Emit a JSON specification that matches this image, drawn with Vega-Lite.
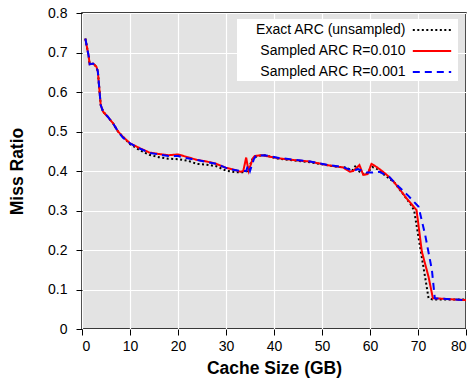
{
  "$schema": "https://vega.github.io/schema/vega-lite/v6.json",
  "width": 384,
  "height": 316,
  "autosize": "none",
  "padding": {"left": 82, "top": 13, "right": 8, "bottom": 52},
  "background": "white",
  "config": {
    "view": {"fill": "#e3e3e3", "stroke": "black", "strokeWidth": 1.5},
    "font": "Liberation Sans"
  },
  "data": {"values": [
    {"series":"Exact ARC (unsampled)","size":0.7,"ratio":0.735},
    {"series":"Exact ARC (unsampled)","size":1.4,"ratio":0.69},
    {"series":"Exact ARC (unsampled)","size":1.6,"ratio":0.67},
    {"series":"Exact ARC (unsampled)","size":2.3,"ratio":0.672},
    {"series":"Exact ARC (unsampled)","size":3.0,"ratio":0.664},
    {"series":"Exact ARC (unsampled)","size":3.3,"ratio":0.652},
    {"series":"Exact ARC (unsampled)","size":3.9,"ratio":0.567},
    {"series":"Exact ARC (unsampled)","size":4.4,"ratio":0.55},
    {"series":"Exact ARC (unsampled)","size":5.4,"ratio":0.537},
    {"series":"Exact ARC (unsampled)","size":6.5,"ratio":0.52},
    {"series":"Exact ARC (unsampled)","size":7.5,"ratio":0.5},
    {"series":"Exact ARC (unsampled)","size":8.5,"ratio":0.487},
    {"series":"Exact ARC (unsampled)","size":10,"ratio":0.468},
    {"series":"Exact ARC (unsampled)","size":12,"ratio":0.453},
    {"series":"Exact ARC (unsampled)","size":14,"ratio":0.441},
    {"series":"Exact ARC (unsampled)","size":16,"ratio":0.435},
    {"series":"Exact ARC (unsampled)","size":18,"ratio":0.431},
    {"series":"Exact ARC (unsampled)","size":20,"ratio":0.43},
    {"series":"Exact ARC (unsampled)","size":22,"ratio":0.426},
    {"series":"Exact ARC (unsampled)","size":24,"ratio":0.418},
    {"series":"Exact ARC (unsampled)","size":26,"ratio":0.416},
    {"series":"Exact ARC (unsampled)","size":28,"ratio":0.412},
    {"series":"Exact ARC (unsampled)","size":30,"ratio":0.401},
    {"series":"Exact ARC (unsampled)","size":32,"ratio":0.397},
    {"series":"Exact ARC (unsampled)","size":33.5,"ratio":0.397},
    {"series":"Exact ARC (unsampled)","size":34.5,"ratio":0.4},
    {"series":"Exact ARC (unsampled)","size":35.5,"ratio":0.43},
    {"series":"Exact ARC (unsampled)","size":36.5,"ratio":0.438},
    {"series":"Exact ARC (unsampled)","size":38,"ratio":0.44},
    {"series":"Exact ARC (unsampled)","size":41,"ratio":0.431},
    {"series":"Exact ARC (unsampled)","size":44,"ratio":0.427},
    {"series":"Exact ARC (unsampled)","size":47,"ratio":0.423},
    {"series":"Exact ARC (unsampled)","size":50,"ratio":0.417},
    {"series":"Exact ARC (unsampled)","size":53,"ratio":0.411},
    {"series":"Exact ARC (unsampled)","size":55,"ratio":0.409},
    {"series":"Exact ARC (unsampled)","size":56.3,"ratio":0.401},
    {"series":"Exact ARC (unsampled)","size":57.1,"ratio":0.415},
    {"series":"Exact ARC (unsampled)","size":57.6,"ratio":0.4},
    {"series":"Exact ARC (unsampled)","size":59,"ratio":0.39},
    {"series":"Exact ARC (unsampled)","size":60.5,"ratio":0.41},
    {"series":"Exact ARC (unsampled)","size":61.5,"ratio":0.405},
    {"series":"Exact ARC (unsampled)","size":63,"ratio":0.39},
    {"series":"Exact ARC (unsampled)","size":65,"ratio":0.372},
    {"series":"Exact ARC (unsampled)","size":67,"ratio":0.34},
    {"series":"Exact ARC (unsampled)","size":68.5,"ratio":0.315},
    {"series":"Exact ARC (unsampled)","size":69.2,"ratio":0.3},
    {"series":"Exact ARC (unsampled)","size":70,"ratio":0.24},
    {"series":"Exact ARC (unsampled)","size":71.5,"ratio":0.13},
    {"series":"Exact ARC (unsampled)","size":72.2,"ratio":0.078},
    {"series":"Exact ARC (unsampled)","size":73,"ratio":0.075},
    {"series":"Exact ARC (unsampled)","size":80,"ratio":0.075},

    {"series":"Sampled ARC R=0.010","size":0.7,"ratio":0.735},
    {"series":"Sampled ARC R=0.010","size":1.4,"ratio":0.69},
    {"series":"Sampled ARC R=0.010","size":1.6,"ratio":0.67},
    {"series":"Sampled ARC R=0.010","size":2.3,"ratio":0.672},
    {"series":"Sampled ARC R=0.010","size":3.0,"ratio":0.664},
    {"series":"Sampled ARC R=0.010","size":3.3,"ratio":0.652},
    {"series":"Sampled ARC R=0.010","size":3.9,"ratio":0.567},
    {"series":"Sampled ARC R=0.010","size":4.4,"ratio":0.55},
    {"series":"Sampled ARC R=0.010","size":5.4,"ratio":0.537},
    {"series":"Sampled ARC R=0.010","size":6.5,"ratio":0.52},
    {"series":"Sampled ARC R=0.010","size":7.5,"ratio":0.5},
    {"series":"Sampled ARC R=0.010","size":8.5,"ratio":0.487},
    {"series":"Sampled ARC R=0.010","size":10,"ratio":0.47},
    {"series":"Sampled ARC R=0.010","size":12,"ratio":0.458},
    {"series":"Sampled ARC R=0.010","size":14,"ratio":0.447},
    {"series":"Sampled ARC R=0.010","size":16,"ratio":0.443},
    {"series":"Sampled ARC R=0.010","size":18,"ratio":0.44},
    {"series":"Sampled ARC R=0.010","size":20,"ratio":0.442},
    {"series":"Sampled ARC R=0.010","size":22,"ratio":0.435},
    {"series":"Sampled ARC R=0.010","size":24,"ratio":0.428},
    {"series":"Sampled ARC R=0.010","size":26,"ratio":0.424},
    {"series":"Sampled ARC R=0.010","size":28,"ratio":0.418},
    {"series":"Sampled ARC R=0.010","size":30,"ratio":0.408},
    {"series":"Sampled ARC R=0.010","size":31.5,"ratio":0.404},
    {"series":"Sampled ARC R=0.010","size":33,"ratio":0.398},
    {"series":"Sampled ARC R=0.010","size":33.6,"ratio":0.4},
    {"series":"Sampled ARC R=0.010","size":34.2,"ratio":0.434},
    {"series":"Sampled ARC R=0.010","size":34.7,"ratio":0.4},
    {"series":"Sampled ARC R=0.010","size":35.6,"ratio":0.432},
    {"series":"Sampled ARC R=0.010","size":36,"ratio":0.438},
    {"series":"Sampled ARC R=0.010","size":37.5,"ratio":0.44},
    {"series":"Sampled ARC R=0.010","size":41,"ratio":0.432},
    {"series":"Sampled ARC R=0.010","size":44.7,"ratio":0.427},
    {"series":"Sampled ARC R=0.010","size":47.5,"ratio":0.424},
    {"series":"Sampled ARC R=0.010","size":51,"ratio":0.415},
    {"series":"Sampled ARC R=0.010","size":54.4,"ratio":0.409},
    {"series":"Sampled ARC R=0.010","size":55.8,"ratio":0.398},
    {"series":"Sampled ARC R=0.010","size":56.5,"ratio":0.4},
    {"series":"Sampled ARC R=0.010","size":57.8,"ratio":0.415},
    {"series":"Sampled ARC R=0.010","size":58.6,"ratio":0.39},
    {"series":"Sampled ARC R=0.010","size":59.5,"ratio":0.392},
    {"series":"Sampled ARC R=0.010","size":60.3,"ratio":0.418},
    {"series":"Sampled ARC R=0.010","size":61.4,"ratio":0.41},
    {"series":"Sampled ARC R=0.010","size":62.5,"ratio":0.4},
    {"series":"Sampled ARC R=0.010","size":64,"ratio":0.385},
    {"series":"Sampled ARC R=0.010","size":65,"ratio":0.372},
    {"series":"Sampled ARC R=0.010","size":66.3,"ratio":0.352},
    {"series":"Sampled ARC R=0.010","size":67.6,"ratio":0.331},
    {"series":"Sampled ARC R=0.010","size":69.7,"ratio":0.301},
    {"series":"Sampled ARC R=0.010","size":70.8,"ratio":0.196},
    {"series":"Sampled ARC R=0.010","size":72.2,"ratio":0.132},
    {"series":"Sampled ARC R=0.010","size":73.1,"ratio":0.078},
    {"series":"Sampled ARC R=0.010","size":80,"ratio":0.073},

    {"series":"Sampled ARC R=0.001","size":0.7,"ratio":0.735},
    {"series":"Sampled ARC R=0.001","size":1.4,"ratio":0.69},
    {"series":"Sampled ARC R=0.001","size":1.6,"ratio":0.67},
    {"series":"Sampled ARC R=0.001","size":2.3,"ratio":0.672},
    {"series":"Sampled ARC R=0.001","size":3.0,"ratio":0.664},
    {"series":"Sampled ARC R=0.001","size":3.3,"ratio":0.652},
    {"series":"Sampled ARC R=0.001","size":3.9,"ratio":0.567},
    {"series":"Sampled ARC R=0.001","size":4.4,"ratio":0.55},
    {"series":"Sampled ARC R=0.001","size":5.4,"ratio":0.537},
    {"series":"Sampled ARC R=0.001","size":6.5,"ratio":0.52},
    {"series":"Sampled ARC R=0.001","size":7.5,"ratio":0.5},
    {"series":"Sampled ARC R=0.001","size":8.5,"ratio":0.485},
    {"series":"Sampled ARC R=0.001","size":10,"ratio":0.47},
    {"series":"Sampled ARC R=0.001","size":12,"ratio":0.457},
    {"series":"Sampled ARC R=0.001","size":14,"ratio":0.446},
    {"series":"Sampled ARC R=0.001","size":16,"ratio":0.442},
    {"series":"Sampled ARC R=0.001","size":18,"ratio":0.438},
    {"series":"Sampled ARC R=0.001","size":20,"ratio":0.438},
    {"series":"Sampled ARC R=0.001","size":22,"ratio":0.432},
    {"series":"Sampled ARC R=0.001","size":24,"ratio":0.428},
    {"series":"Sampled ARC R=0.001","size":26,"ratio":0.423},
    {"series":"Sampled ARC R=0.001","size":28,"ratio":0.418},
    {"series":"Sampled ARC R=0.001","size":30,"ratio":0.408},
    {"series":"Sampled ARC R=0.001","size":31.5,"ratio":0.403},
    {"series":"Sampled ARC R=0.001","size":33,"ratio":0.4},
    {"series":"Sampled ARC R=0.001","size":34.2,"ratio":0.4},
    {"series":"Sampled ARC R=0.001","size":34.6,"ratio":0.415},
    {"series":"Sampled ARC R=0.001","size":35.0,"ratio":0.4},
    {"series":"Sampled ARC R=0.001","size":35.8,"ratio":0.43},
    {"series":"Sampled ARC R=0.001","size":36.2,"ratio":0.438},
    {"series":"Sampled ARC R=0.001","size":38,"ratio":0.44},
    {"series":"Sampled ARC R=0.001","size":41,"ratio":0.433},
    {"series":"Sampled ARC R=0.001","size":44.7,"ratio":0.428},
    {"series":"Sampled ARC R=0.001","size":47.5,"ratio":0.424},
    {"series":"Sampled ARC R=0.001","size":51,"ratio":0.416},
    {"series":"Sampled ARC R=0.001","size":54.4,"ratio":0.41},
    {"series":"Sampled ARC R=0.001","size":56.5,"ratio":0.4},
    {"series":"Sampled ARC R=0.001","size":57.5,"ratio":0.405},
    {"series":"Sampled ARC R=0.001","size":59.2,"ratio":0.396},
    {"series":"Sampled ARC R=0.001","size":60.6,"ratio":0.396},
    {"series":"Sampled ARC R=0.001","size":62,"ratio":0.398},
    {"series":"Sampled ARC R=0.001","size":64,"ratio":0.385},
    {"series":"Sampled ARC R=0.001","size":66,"ratio":0.36},
    {"series":"Sampled ARC R=0.001","size":68,"ratio":0.337},
    {"series":"Sampled ARC R=0.001","size":70.1,"ratio":0.31},
    {"series":"Sampled ARC R=0.001","size":71.5,"ratio":0.238},
    {"series":"Sampled ARC R=0.001","size":72.9,"ratio":0.149},
    {"series":"Sampled ARC R=0.001","size":73.5,"ratio":0.078},
    {"series":"Sampled ARC R=0.001","size":80,"ratio":0.073}
  ]},
  "mark": {"type": "line", "strokeWidth": 2},
  "encoding": {
    "x": {
      "field": "size", "type": "quantitative",
      "scale": {"domain": [0, 80], "nice": false, "zero": false},
      "axis": {
        "title": "Cache Size (GB)", "values": [0,10,20,30,40,50,60,70,80],
        "domain": false, "grid": true, "gridColor": "white", "gridWidth": 1.2,
        "ticks": true, "tickColor": "black", "tickSize": 6, "tickWidth": 1,
        "labelFontSize": 14, "labelColor": "black", "labelPadding": 4,
        "titleFontSize": 17.5, "titleFontWeight": "bold", "titleColor": "black", "titlePadding": 6
      }
    },
    "y": {
      "field": "ratio", "type": "quantitative",
      "scale": {"domain": [0, 0.8], "nice": false},
      "axis": {
        "title": "Miss Ratio", "values": [0,0.1,0.2,0.3,0.4,0.5,0.6,0.7,0.8], "format": "~g",
        "domain": false, "grid": true, "gridColor": "white", "gridWidth": 1.2,
        "ticks": true, "tickColor": "black", "tickSize": 6, "tickWidth": 1,
        "labelFontSize": 14, "labelColor": "black", "labelPadding": 9,
        "titleFontSize": 17.5, "titleFontWeight": "bold", "titleColor": "black", "titlePadding": 21
      }
    },
    "color": {
      "field": "series", "type": "nominal",
      "scale": {
        "domain": ["Exact ARC (unsampled)", "Sampled ARC R=0.010", "Sampled ARC R=0.001"],
        "range": ["black", "#ff0000", "#0000ff"]
      },
      "legend": {
        "title": null, "orient": "none", "legendX": 155, "legendY": 6,
        "fillColor": "white", "padding": 2, "labelFontSize": 14, "labelColor": "black",
        "symbolType": "M-2.4,0H2.4", "symbolSize": 256, "symbolStrokeWidth": 2, "rowPadding": 5,
        "labelAlign": "right", "labelOffset": -35.5, "symbolOffset": 184, "labelLimit": 300
      }
    },
    "strokeDash": {
      "field": "series", "type": "nominal",
      "scale": {
        "domain": ["Exact ARC (unsampled)", "Sampled ARC R=0.010", "Sampled ARC R=0.001"],
        "range": [[2, 2.5], [1, 0], [7, 5]]
      },
      "legend": null
    },
    "order": {"field": "size", "type": "quantitative"}
  }
}
